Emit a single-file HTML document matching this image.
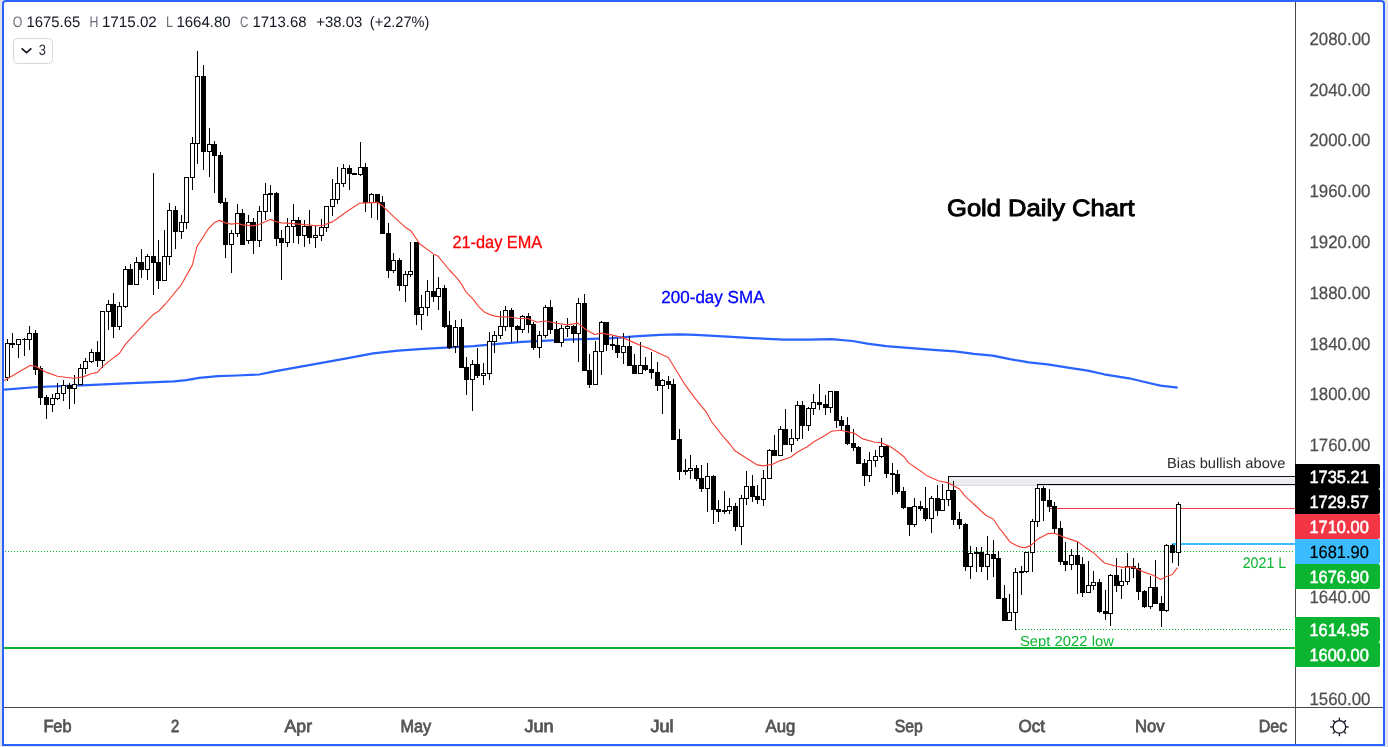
<!DOCTYPE html>
<html><head><meta charset="utf-8"><title>Gold Daily Chart</title>
<style>html,body{margin:0;padding:0;background:#e0e3eb;overflow:hidden}svg{display:block;position:absolute;left:0;top:0;will-change:transform}text{font-family:"Liberation Sans", sans-serif;text-rendering:geometricPrecision}</style>
</head><body>
<svg width="1388" height="747" viewBox="0 0 1388 747">
<rect x="0" y="0" width="1388" height="747" fill="#e0e3eb"/>
<path d="M2 746 V4 Q2 0 6 0 H1381 Q1385 0 1385 4 V746 Z" fill="#2962ff"/>
<path d="M4 744 V4 Q4 2 6 2 H1381 Q1383 2 1383 4 V744 Z" fill="#ffffff"/>
<g shape-rendering="crispEdges">
<rect x="948" y="477" width="347" height="8" fill="#ededf0"/>
<rect x="948" y="485" width="347" height="1" fill="#d9dce6"/>
<rect x="948" y="476" width="347" height="1" fill="#131722"/>
<rect x="1037" y="484" width="258" height="1" fill="#000000"/>
<rect x="1049" y="508" width="246" height="1" fill="#f23645"/>
<rect x="1172" y="543" width="123" height="2" fill="#3bbcff"/>
<rect x="4" y="647" width="1291" height="2" fill="#0cb531"/>
<path d="M5 551h1v1h-1zM8 551h1v1h-1zM11 551h1v1h-1zM14 551h1v1h-1zM17 551h1v1h-1zM20 551h1v1h-1zM23 551h1v1h-1zM26 551h1v1h-1zM29 551h1v1h-1zM32 551h1v1h-1zM35 551h1v1h-1zM38 551h1v1h-1zM41 551h1v1h-1zM44 551h1v1h-1zM47 551h1v1h-1zM50 551h1v1h-1zM53 551h1v1h-1zM56 551h1v1h-1zM59 551h1v1h-1zM62 551h1v1h-1zM65 551h1v1h-1zM68 551h1v1h-1zM71 551h1v1h-1zM74 551h1v1h-1zM77 551h1v1h-1zM80 551h1v1h-1zM83 551h1v1h-1zM86 551h1v1h-1zM89 551h1v1h-1zM92 551h1v1h-1zM95 551h1v1h-1zM98 551h1v1h-1zM101 551h1v1h-1zM104 551h1v1h-1zM107 551h1v1h-1zM110 551h1v1h-1zM113 551h1v1h-1zM116 551h1v1h-1zM119 551h1v1h-1zM122 551h1v1h-1zM125 551h1v1h-1zM128 551h1v1h-1zM131 551h1v1h-1zM134 551h1v1h-1zM137 551h1v1h-1zM140 551h1v1h-1zM143 551h1v1h-1zM146 551h1v1h-1zM149 551h1v1h-1zM152 551h1v1h-1zM155 551h1v1h-1zM158 551h1v1h-1zM161 551h1v1h-1zM164 551h1v1h-1zM167 551h1v1h-1zM170 551h1v1h-1zM173 551h1v1h-1zM176 551h1v1h-1zM179 551h1v1h-1zM182 551h1v1h-1zM185 551h1v1h-1zM188 551h1v1h-1zM191 551h1v1h-1zM194 551h1v1h-1zM197 551h1v1h-1zM200 551h1v1h-1zM203 551h1v1h-1zM206 551h1v1h-1zM209 551h1v1h-1zM212 551h1v1h-1zM215 551h1v1h-1zM218 551h1v1h-1zM221 551h1v1h-1zM224 551h1v1h-1zM227 551h1v1h-1zM230 551h1v1h-1zM233 551h1v1h-1zM236 551h1v1h-1zM239 551h1v1h-1zM242 551h1v1h-1zM245 551h1v1h-1zM248 551h1v1h-1zM251 551h1v1h-1zM254 551h1v1h-1zM257 551h1v1h-1zM260 551h1v1h-1zM263 551h1v1h-1zM266 551h1v1h-1zM269 551h1v1h-1zM272 551h1v1h-1zM275 551h1v1h-1zM278 551h1v1h-1zM281 551h1v1h-1zM284 551h1v1h-1zM287 551h1v1h-1zM290 551h1v1h-1zM293 551h1v1h-1zM296 551h1v1h-1zM299 551h1v1h-1zM302 551h1v1h-1zM305 551h1v1h-1zM308 551h1v1h-1zM311 551h1v1h-1zM314 551h1v1h-1zM317 551h1v1h-1zM320 551h1v1h-1zM323 551h1v1h-1zM326 551h1v1h-1zM329 551h1v1h-1zM332 551h1v1h-1zM335 551h1v1h-1zM338 551h1v1h-1zM341 551h1v1h-1zM344 551h1v1h-1zM347 551h1v1h-1zM350 551h1v1h-1zM353 551h1v1h-1zM356 551h1v1h-1zM359 551h1v1h-1zM362 551h1v1h-1zM365 551h1v1h-1zM368 551h1v1h-1zM371 551h1v1h-1zM374 551h1v1h-1zM377 551h1v1h-1zM380 551h1v1h-1zM383 551h1v1h-1zM386 551h1v1h-1zM389 551h1v1h-1zM392 551h1v1h-1zM395 551h1v1h-1zM398 551h1v1h-1zM401 551h1v1h-1zM404 551h1v1h-1zM407 551h1v1h-1zM410 551h1v1h-1zM413 551h1v1h-1zM416 551h1v1h-1zM419 551h1v1h-1zM422 551h1v1h-1zM425 551h1v1h-1zM428 551h1v1h-1zM431 551h1v1h-1zM434 551h1v1h-1zM437 551h1v1h-1zM440 551h1v1h-1zM443 551h1v1h-1zM446 551h1v1h-1zM449 551h1v1h-1zM452 551h1v1h-1zM455 551h1v1h-1zM458 551h1v1h-1zM461 551h1v1h-1zM464 551h1v1h-1zM467 551h1v1h-1zM470 551h1v1h-1zM473 551h1v1h-1zM476 551h1v1h-1zM479 551h1v1h-1zM482 551h1v1h-1zM485 551h1v1h-1zM488 551h1v1h-1zM491 551h1v1h-1zM494 551h1v1h-1zM497 551h1v1h-1zM500 551h1v1h-1zM503 551h1v1h-1zM506 551h1v1h-1zM509 551h1v1h-1zM512 551h1v1h-1zM515 551h1v1h-1zM518 551h1v1h-1zM521 551h1v1h-1zM524 551h1v1h-1zM527 551h1v1h-1zM530 551h1v1h-1zM533 551h1v1h-1zM536 551h1v1h-1zM539 551h1v1h-1zM542 551h1v1h-1zM545 551h1v1h-1zM548 551h1v1h-1zM551 551h1v1h-1zM554 551h1v1h-1zM557 551h1v1h-1zM560 551h1v1h-1zM563 551h1v1h-1zM566 551h1v1h-1zM569 551h1v1h-1zM572 551h1v1h-1zM575 551h1v1h-1zM578 551h1v1h-1zM581 551h1v1h-1zM584 551h1v1h-1zM587 551h1v1h-1zM590 551h1v1h-1zM593 551h1v1h-1zM596 551h1v1h-1zM599 551h1v1h-1zM602 551h1v1h-1zM605 551h1v1h-1zM608 551h1v1h-1zM611 551h1v1h-1zM614 551h1v1h-1zM617 551h1v1h-1zM620 551h1v1h-1zM623 551h1v1h-1zM626 551h1v1h-1zM629 551h1v1h-1zM632 551h1v1h-1zM635 551h1v1h-1zM638 551h1v1h-1zM641 551h1v1h-1zM644 551h1v1h-1zM647 551h1v1h-1zM650 551h1v1h-1zM653 551h1v1h-1zM656 551h1v1h-1zM659 551h1v1h-1zM662 551h1v1h-1zM665 551h1v1h-1zM668 551h1v1h-1zM671 551h1v1h-1zM674 551h1v1h-1zM677 551h1v1h-1zM680 551h1v1h-1zM683 551h1v1h-1zM686 551h1v1h-1zM689 551h1v1h-1zM692 551h1v1h-1zM695 551h1v1h-1zM698 551h1v1h-1zM701 551h1v1h-1zM704 551h1v1h-1zM707 551h1v1h-1zM710 551h1v1h-1zM713 551h1v1h-1zM716 551h1v1h-1zM719 551h1v1h-1zM722 551h1v1h-1zM725 551h1v1h-1zM728 551h1v1h-1zM731 551h1v1h-1zM734 551h1v1h-1zM737 551h1v1h-1zM740 551h1v1h-1zM743 551h1v1h-1zM746 551h1v1h-1zM749 551h1v1h-1zM752 551h1v1h-1zM755 551h1v1h-1zM758 551h1v1h-1zM761 551h1v1h-1zM764 551h1v1h-1zM767 551h1v1h-1zM770 551h1v1h-1zM773 551h1v1h-1zM776 551h1v1h-1zM779 551h1v1h-1zM782 551h1v1h-1zM785 551h1v1h-1zM788 551h1v1h-1zM791 551h1v1h-1zM794 551h1v1h-1zM797 551h1v1h-1zM800 551h1v1h-1zM803 551h1v1h-1zM806 551h1v1h-1zM809 551h1v1h-1zM812 551h1v1h-1zM815 551h1v1h-1zM818 551h1v1h-1zM821 551h1v1h-1zM824 551h1v1h-1zM827 551h1v1h-1zM830 551h1v1h-1zM833 551h1v1h-1zM836 551h1v1h-1zM839 551h1v1h-1zM842 551h1v1h-1zM845 551h1v1h-1zM848 551h1v1h-1zM851 551h1v1h-1zM854 551h1v1h-1zM857 551h1v1h-1zM860 551h1v1h-1zM863 551h1v1h-1zM866 551h1v1h-1zM869 551h1v1h-1zM872 551h1v1h-1zM875 551h1v1h-1zM878 551h1v1h-1zM881 551h1v1h-1zM884 551h1v1h-1zM887 551h1v1h-1zM890 551h1v1h-1zM893 551h1v1h-1zM896 551h1v1h-1zM899 551h1v1h-1zM902 551h1v1h-1zM905 551h1v1h-1zM908 551h1v1h-1zM911 551h1v1h-1zM914 551h1v1h-1zM917 551h1v1h-1zM920 551h1v1h-1zM923 551h1v1h-1zM926 551h1v1h-1zM929 551h1v1h-1zM932 551h1v1h-1zM935 551h1v1h-1zM938 551h1v1h-1zM941 551h1v1h-1zM944 551h1v1h-1zM947 551h1v1h-1zM950 551h1v1h-1zM953 551h1v1h-1zM956 551h1v1h-1zM959 551h1v1h-1zM962 551h1v1h-1zM965 551h1v1h-1zM968 551h1v1h-1zM971 551h1v1h-1zM974 551h1v1h-1zM977 551h1v1h-1zM980 551h1v1h-1zM983 551h1v1h-1zM986 551h1v1h-1zM989 551h1v1h-1zM992 551h1v1h-1zM995 551h1v1h-1zM998 551h1v1h-1zM1001 551h1v1h-1zM1004 551h1v1h-1zM1007 551h1v1h-1zM1010 551h1v1h-1zM1013 551h1v1h-1zM1016 551h1v1h-1zM1019 551h1v1h-1zM1022 551h1v1h-1zM1025 551h1v1h-1zM1028 551h1v1h-1zM1031 551h1v1h-1zM1034 551h1v1h-1zM1037 551h1v1h-1zM1040 551h1v1h-1zM1043 551h1v1h-1zM1046 551h1v1h-1zM1049 551h1v1h-1zM1052 551h1v1h-1zM1055 551h1v1h-1zM1058 551h1v1h-1zM1061 551h1v1h-1zM1064 551h1v1h-1zM1067 551h1v1h-1zM1070 551h1v1h-1zM1073 551h1v1h-1zM1076 551h1v1h-1zM1079 551h1v1h-1zM1082 551h1v1h-1zM1085 551h1v1h-1zM1088 551h1v1h-1zM1091 551h1v1h-1zM1094 551h1v1h-1zM1097 551h1v1h-1zM1100 551h1v1h-1zM1103 551h1v1h-1zM1106 551h1v1h-1zM1109 551h1v1h-1zM1112 551h1v1h-1zM1115 551h1v1h-1zM1118 551h1v1h-1zM1121 551h1v1h-1zM1124 551h1v1h-1zM1127 551h1v1h-1zM1130 551h1v1h-1zM1133 551h1v1h-1zM1136 551h1v1h-1zM1139 551h1v1h-1zM1142 551h1v1h-1zM1145 551h1v1h-1zM1148 551h1v1h-1zM1151 551h1v1h-1zM1154 551h1v1h-1zM1157 551h1v1h-1zM1160 551h1v1h-1zM1163 551h1v1h-1zM1166 551h1v1h-1zM1169 551h1v1h-1zM1172 551h1v1h-1zM1175 551h1v1h-1zM1178 551h1v1h-1zM1181 551h1v1h-1zM1184 551h1v1h-1zM1187 551h1v1h-1zM1190 551h1v1h-1zM1193 551h1v1h-1zM1196 551h1v1h-1zM1199 551h1v1h-1zM1202 551h1v1h-1zM1205 551h1v1h-1zM1208 551h1v1h-1zM1211 551h1v1h-1zM1214 551h1v1h-1zM1217 551h1v1h-1zM1220 551h1v1h-1zM1223 551h1v1h-1zM1226 551h1v1h-1zM1229 551h1v1h-1zM1232 551h1v1h-1zM1235 551h1v1h-1zM1238 551h1v1h-1zM1241 551h1v1h-1zM1244 551h1v1h-1zM1247 551h1v1h-1zM1250 551h1v1h-1zM1253 551h1v1h-1zM1256 551h1v1h-1zM1259 551h1v1h-1zM1262 551h1v1h-1zM1265 551h1v1h-1zM1268 551h1v1h-1zM1271 551h1v1h-1zM1274 551h1v1h-1zM1277 551h1v1h-1zM1280 551h1v1h-1zM1283 551h1v1h-1zM1286 551h1v1h-1zM1289 551h1v1h-1zM1292 551h1v1h-1zM1016 629h1v1h-1zM1019 629h1v1h-1zM1022 629h1v1h-1zM1025 629h1v1h-1zM1028 629h1v1h-1zM1031 629h1v1h-1zM1034 629h1v1h-1zM1037 629h1v1h-1zM1040 629h1v1h-1zM1043 629h1v1h-1zM1046 629h1v1h-1zM1049 629h1v1h-1zM1052 629h1v1h-1zM1055 629h1v1h-1zM1058 629h1v1h-1zM1061 629h1v1h-1zM1064 629h1v1h-1zM1067 629h1v1h-1zM1070 629h1v1h-1zM1073 629h1v1h-1zM1076 629h1v1h-1zM1079 629h1v1h-1zM1082 629h1v1h-1zM1085 629h1v1h-1zM1088 629h1v1h-1zM1091 629h1v1h-1zM1094 629h1v1h-1zM1097 629h1v1h-1zM1100 629h1v1h-1zM1103 629h1v1h-1zM1106 629h1v1h-1zM1109 629h1v1h-1zM1112 629h1v1h-1zM1115 629h1v1h-1zM1118 629h1v1h-1zM1121 629h1v1h-1zM1124 629h1v1h-1zM1127 629h1v1h-1zM1130 629h1v1h-1zM1133 629h1v1h-1zM1136 629h1v1h-1zM1139 629h1v1h-1zM1142 629h1v1h-1zM1145 629h1v1h-1zM1148 629h1v1h-1zM1151 629h1v1h-1zM1154 629h1v1h-1zM1157 629h1v1h-1zM1160 629h1v1h-1zM1163 629h1v1h-1zM1166 629h1v1h-1zM1169 629h1v1h-1zM1172 629h1v1h-1zM1175 629h1v1h-1zM1178 629h1v1h-1zM1181 629h1v1h-1zM1184 629h1v1h-1zM1187 629h1v1h-1zM1190 629h1v1h-1zM1193 629h1v1h-1zM1196 629h1v1h-1zM1199 629h1v1h-1zM1202 629h1v1h-1zM1205 629h1v1h-1zM1208 629h1v1h-1zM1211 629h1v1h-1zM1214 629h1v1h-1zM1217 629h1v1h-1zM1220 629h1v1h-1zM1223 629h1v1h-1zM1226 629h1v1h-1zM1229 629h1v1h-1zM1232 629h1v1h-1zM1235 629h1v1h-1zM1238 629h1v1h-1zM1241 629h1v1h-1zM1244 629h1v1h-1zM1247 629h1v1h-1zM1250 629h1v1h-1zM1253 629h1v1h-1zM1256 629h1v1h-1zM1259 629h1v1h-1zM1262 629h1v1h-1zM1265 629h1v1h-1zM1268 629h1v1h-1zM1271 629h1v1h-1zM1274 629h1v1h-1zM1277 629h1v1h-1zM1280 629h1v1h-1zM1283 629h1v1h-1zM1286 629h1v1h-1zM1289 629h1v1h-1zM1292 629h1v1h-1z" fill="#0cb531"/>
</g>
<polyline points="4.0,389.8 4.4,389.7 37.6,387.0 87.7,385.1 125.4,383.4 174.0,381.4 186.5,380.1 199.1,377.8 217.9,376.1 236.7,375.5 259.2,374.5 274.3,371.3 299.4,366.9 324.4,362.3 348.0,358.1 373.1,353.3 398.1,350.7 423.2,348.8 445.8,347.6 473.4,346.2 498.4,343.8 522.0,341.9 547.1,340.7 572.1,339.4 592.2,338.8 612.3,338.2 634.8,336.3 659.9,334.8 678.7,334.4 696.0,334.8 727.3,336.6 752.4,338.2 783.8,339.6 808.8,339.7 831.4,339.1 852.5,341.0 867.3,343.6 886.1,346.1 911.2,348.2 936.3,350.1 955.1,351.3 973.9,353.8 992.7,355.7 1010.0,359.2 1028.8,362.3 1047.6,364.3 1066.4,367.3 1087.7,370.6 1104.0,374.3 1129.1,378.3 1147.9,382.7 1160.4,385.6 1177.7,387.7" fill="none" stroke="#2962ff" stroke-width="2.2" stroke-linejoin="round" stroke-linecap="butt"/>
<g shape-rendering="crispEdges">
<path d="M7 339h1v42h-1zM12 333h1v15h-1zM18 339h1v19h-1zM24 338h1v18h-1zM29 326h1v24h-1zM35 330h1v45h-1zM40 366h1v39h-1zM46 395h1v24h-1zM52 394h1v18h-1zM57 383h1v17h-1zM63 380h1v21h-1zM69 383h1v26h-1zM74 375h1v29h-1zM80 364h1v21h-1zM85 358h1v16h-1zM91 349h1v14h-1zM97 341h1v26h-1zM102 311h1v57h-1zM108 300h1v30h-1zM113 293h1v45h-1zM119 302h1v28h-1zM125 266h1v42h-1zM130 264h1v21h-1zM136 257h1v28h-1zM141 249h1v29h-1zM147 254h1v26h-1zM153 173h1v122h-1zM158 240h1v49h-1zM164 230h1v51h-1zM169 203h1v62h-1zM175 206h1v43h-1zM181 215h1v24h-1zM186 177h1v52h-1zM192 137h1v53h-1zM197 51h1v113h-1zM203 65h1v105h-1zM209 128h1v49h-1zM214 141h1v52h-1zM220 152h1v52h-1zM225 198h1v60h-1zM231 230h1v43h-1zM237 204h1v33h-1zM242 209h1v36h-1zM248 215h1v29h-1zM253 218h1v36h-1zM259 206h1v41h-1zM265 183h1v37h-1zM270 185h1v27h-1zM276 192h1v54h-1zM281 230h1v50h-1zM287 218h1v29h-1zM293 204h1v39h-1zM298 217h1v27h-1zM304 220h1v27h-1zM309 210h1v34h-1zM315 225h1v23h-1zM321 219h1v22h-1zM326 206h1v26h-1zM332 179h1v37h-1zM337 167h1v37h-1zM343 164h1v23h-1zM349 165h1v25h-1zM354 173h1v2h-1zM360 142h1v34h-1zM365 163h1v49h-1zM371 193h1v25h-1zM377 194h1v26h-1zM382 196h1v38h-1zM388 223h1v55h-1zM393 253h1v20h-1zM399 258h1v33h-1zM405 271h1v31h-1zM410 242h1v35h-1zM416 242h1v83h-1zM421 295h1v35h-1zM427 280h1v36h-1zM433 255h1v47h-1zM438 277h1v33h-1zM444 285h1v43h-1zM449 311h1v38h-1zM455 320h1v33h-1zM461 319h1v49h-1zM466 357h1v38h-1zM472 360h1v51h-1zM477 348h1v30h-1zM483 363h1v22h-1zM489 332h1v48h-1zM494 331h1v22h-1zM500 311h1v28h-1zM505 306h1v25h-1zM511 308h1v34h-1zM517 325h1v17h-1zM522 315h1v18h-1zM528 313h1v20h-1zM533 322h1v28h-1zM539 331h1v27h-1zM545 305h1v33h-1zM550 300h1v34h-1zM556 321h1v22h-1zM561 325h1v22h-1zM567 318h1v19h-1zM573 325h1v18h-1zM578 298h1v64h-1zM584 294h1v77h-1zM589 354h1v34h-1zM595 341h1v44h-1zM601 321h1v54h-1zM606 322h1v29h-1zM612 336h1v14h-1zM617 338h1v20h-1zM623 333h1v31h-1zM629 336h1v30h-1zM634 354h1v20h-1zM640 342h1v32h-1zM645 357h1v14h-1zM651 352h1v27h-1zM657 362h1v29h-1zM662 379h1v35h-1zM668 376h1v13h-1zM673 379h1v61h-1zM679 429h1v51h-1zM685 459h1v16h-1zM690 455h1v24h-1zM696 465h1v16h-1zM701 465h1v27h-1zM707 463h1v49h-1zM713 475h1v49h-1zM718 500h1v22h-1zM724 491h1v23h-1zM729 498h1v16h-1zM735 503h1v28h-1zM741 495h1v50h-1zM746 471h1v34h-1zM752 475h1v27h-1zM757 485h1v19h-1zM763 470h1v36h-1zM769 449h1v30h-1zM774 435h1v21h-1zM780 426h1v30h-1zM785 409h1v36h-1zM791 429h1v23h-1zM797 401h1v40h-1zM802 401h1v38h-1zM808 407h1v24h-1zM813 394h1v21h-1zM819 384h1v26h-1zM825 395h1v20h-1zM830 391h1v22h-1zM836 391h1v37h-1zM841 416h1v14h-1zM847 417h1v28h-1zM853 429h1v22h-1zM858 446h1v18h-1zM864 459h1v27h-1zM869 452h1v30h-1zM875 450h1v17h-1zM881 438h1v20h-1zM886 445h1v33h-1zM892 463h1v32h-1zM897 470h1v24h-1zM903 487h1v22h-1zM909 507h1v29h-1zM914 498h1v29h-1zM920 501h1v10h-1zM925 487h1v34h-1zM931 496h1v37h-1zM937 485h1v31h-1zM942 484h1v27h-1zM948 476h1v30h-1zM953 481h1v44h-1zM959 512h1v17h-1zM965 523h1v48h-1zM970 546h1v33h-1zM976 547h1v25h-1zM981 547h1v25h-1zM987 536h1v44h-1zM993 540h1v37h-1zM998 551h1v48h-1zM1004 585h1v36h-1zM1009 594h1v27h-1zM1015 568h1v62h-1zM1021 566h1v29h-1zM1026 552h1v21h-1zM1032 519h1v53h-1zM1037 484h1v43h-1zM1043 486h1v35h-1zM1049 489h1v23h-1zM1054 502h1v31h-1zM1060 521h1v44h-1zM1065 542h1v29h-1zM1071 549h1v21h-1zM1077 542h1v52h-1zM1082 557h1v40h-1zM1088 561h1v32h-1zM1093 571h1v19h-1zM1099 579h1v34h-1zM1105 590h1v30h-1zM1110 574h1v52h-1zM1116 558h1v34h-1zM1121 569h1v30h-1zM1127 553h1v32h-1zM1133 558h1v20h-1zM1138 563h1v37h-1zM1144 590h1v18h-1zM1150 576h1v33h-1zM1155 560h1v44h-1zM1161 596h1v31h-1zM1166 544h1v68h-1zM1172 544h1v19h-1zM1178 502h1v64h-1z" fill="#000"/>
<path d="M5 343h5v35h-5zM10 343h5v2h-5zM16 339h5v6h-5zM22 339h5v1h-5zM27 333h5v7h-5zM33 333h5v37h-5zM38 368h5v30h-5zM44 397h5v8h-5zM50 398h5v7h-5zM55 393h5v6h-5zM61 385h5v9h-5zM67 385h5v4h-5zM72 384h5v5h-5zM78 368h5v17h-5zM83 361h5v8h-5zM89 352h5v10h-5zM95 352h5v9h-5zM100 311h5v50h-5zM106 304h5v8h-5zM111 304h5v23h-5zM117 306h5v21h-5zM123 269h5v38h-5zM128 269h5v16h-5zM134 262h5v23h-5zM139 262h5v8h-5zM145 256h5v14h-5zM151 256h5v7h-5zM156 262h5v19h-5zM162 256h5v25h-5zM167 210h5v47h-5zM173 210h5v22h-5zM179 222h5v10h-5zM184 177h5v46h-5zM190 143h5v35h-5zM195 76h5v68h-5zM201 76h5v76h-5zM207 144h5v8h-5zM212 144h5v12h-5zM218 155h5v48h-5zM223 202h5v43h-5zM229 233h5v12h-5zM235 213h5v21h-5zM240 213h5v32h-5zM246 222h5v19h-5zM251 222h5v19h-5zM257 211h5v30h-5zM263 194h5v18h-5zM268 193h5v2h-5zM274 193h5v46h-5zM279 238h5v5h-5zM285 226h5v17h-5zM291 220h5v7h-5zM296 220h5v16h-5zM302 226h5v10h-5zM307 226h5v12h-5zM313 235h5v3h-5zM319 227h5v9h-5zM324 206h5v22h-5zM330 199h5v8h-5zM335 183h5v17h-5zM341 168h5v16h-5zM347 168h5v6h-5zM352 173h5v2h-5zM358 167h5v8h-5zM363 167h5v36h-5zM369 194h5v9h-5zM375 194h5v9h-5zM380 202h5v32h-5zM386 233h5v38h-5zM391 260h5v11h-5zM397 260h5v26h-5zM403 274h5v12h-5zM408 271h5v4h-5zM414 242h5v73h-5zM419 307h5v8h-5zM425 291h5v17h-5zM431 291h5v6h-5zM436 288h5v9h-5zM442 288h5v39h-5zM447 325h5v23h-5zM453 327h5v20h-5zM459 327h5v41h-5zM464 367h5v13h-5zM470 364h5v16h-5zM475 364h5v12h-5zM481 373h5v3h-5zM487 341h5v33h-5zM492 335h5v7h-5zM498 326h5v10h-5zM503 310h5v17h-5zM509 310h5v17h-5zM515 326h5v4h-5zM520 316h5v14h-5zM526 316h5v9h-5zM531 324h5v24h-5zM537 335h5v13h-5zM543 307h5v29h-5zM548 307h5v23h-5zM554 329h5v14h-5zM559 328h5v15h-5zM565 326h5v3h-5zM571 326h5v8h-5zM576 303h5v31h-5zM582 303h5v68h-5zM587 370h5v15h-5zM593 351h5v34h-5zM599 322h5v30h-5zM604 322h5v23h-5zM610 344h5v2h-5zM615 345h5v8h-5zM621 346h5v7h-5zM627 346h5v20h-5zM632 365h5v9h-5zM638 365h5v9h-5zM643 365h5v5h-5zM649 369h5v4h-5zM655 372h5v14h-5zM660 380h5v6h-5zM666 381h5v4h-5zM671 384h5v56h-5zM677 439h5v33h-5zM683 470h5v2h-5zM688 468h5v3h-5zM694 468h5v11h-5zM699 478h5v11h-5zM705 476h5v13h-5zM711 476h5v34h-5zM716 509h5v3h-5zM722 510h5v2h-5zM727 506h5v5h-5zM733 506h5v21h-5zM739 498h5v29h-5zM744 486h5v13h-5zM750 486h5v11h-5zM755 496h5v4h-5zM761 478h5v22h-5zM767 450h5v29h-5zM772 450h5v6h-5zM778 429h5v27h-5zM783 429h5v16h-5zM789 438h5v7h-5zM795 405h5v34h-5zM800 405h5v21h-5zM806 408h5v18h-5zM811 402h5v7h-5zM817 402h5v3h-5zM823 404h5v4h-5zM828 391h5v17h-5zM834 391h5v30h-5zM839 420h5v6h-5zM845 425h5v19h-5zM851 443h5v5h-5zM856 447h5v17h-5zM862 463h5v13h-5zM867 460h5v16h-5zM873 456h5v5h-5zM879 446h5v11h-5zM884 446h5v28h-5zM890 473h5v2h-5zM895 474h5v18h-5zM901 491h5v17h-5zM907 507h5v18h-5zM912 506h5v19h-5zM918 506h5v3h-5zM923 508h5v11h-5zM929 498h5v21h-5zM935 498h5v13h-5zM940 499h5v12h-5zM946 490h5v10h-5zM951 490h5v30h-5zM957 519h5v6h-5zM963 524h5v43h-5zM968 553h5v14h-5zM974 552h5v2h-5zM979 552h5v15h-5zM985 554h5v13h-5zM991 554h5v5h-5zM996 558h5v41h-5zM1002 598h5v23h-5zM1007 612h5v9h-5zM1013 572h5v41h-5zM1019 571h5v2h-5zM1024 552h5v20h-5zM1030 521h5v32h-5zM1035 488h5v34h-5zM1041 488h5v13h-5zM1047 500h5v7h-5zM1052 506h5v23h-5zM1058 528h5v34h-5zM1063 561h5v4h-5zM1069 555h5v10h-5zM1075 555h5v10h-5zM1080 564h5v29h-5zM1086 585h5v8h-5zM1091 582h5v4h-5zM1097 582h5v30h-5zM1103 611h5v3h-5zM1108 575h5v39h-5zM1114 575h5v11h-5zM1119 581h5v5h-5zM1125 566h5v16h-5zM1131 566h5v3h-5zM1136 568h5v24h-5zM1142 591h5v16h-5zM1148 587h5v20h-5zM1153 587h5v17h-5zM1159 603h5v8h-5zM1164 545h5v66h-5zM1170 545h5v8h-5zM1176 504h5v49h-5z" fill="#000"/>
<path d="M6 344h3v33h-3zM17 340h3v4h-3zM28 334h3v5h-3zM51 399h3v5h-3zM56 394h3v4h-3zM62 386h3v7h-3zM73 385h3v3h-3zM79 369h3v15h-3zM84 362h3v6h-3zM90 353h3v8h-3zM101 312h3v48h-3zM107 305h3v6h-3zM118 307h3v19h-3zM124 270h3v36h-3zM135 263h3v21h-3zM146 257h3v12h-3zM163 257h3v23h-3zM168 211h3v45h-3zM180 223h3v8h-3zM185 178h3v44h-3zM191 144h3v33h-3zM196 77h3v66h-3zM208 145h3v6h-3zM230 234h3v10h-3zM236 214h3v19h-3zM247 223h3v17h-3zM258 212h3v28h-3zM264 195h3v16h-3zM286 227h3v15h-3zM292 221h3v5h-3zM303 227h3v8h-3zM314 236h3v1h-3zM320 228h3v7h-3zM325 207h3v20h-3zM331 200h3v6h-3zM336 184h3v15h-3zM342 169h3v14h-3zM359 168h3v6h-3zM370 195h3v7h-3zM392 261h3v9h-3zM404 275h3v10h-3zM409 272h3v2h-3zM420 308h3v6h-3zM426 292h3v15h-3zM437 289h3v7h-3zM454 328h3v18h-3zM471 365h3v14h-3zM482 374h3v1h-3zM488 342h3v31h-3zM493 336h3v5h-3zM499 327h3v8h-3zM504 311h3v15h-3zM521 317h3v12h-3zM538 336h3v11h-3zM544 308h3v27h-3zM560 329h3v13h-3zM566 327h3v1h-3zM577 304h3v29h-3zM594 352h3v32h-3zM600 323h3v28h-3zM622 347h3v5h-3zM639 366h3v7h-3zM661 381h3v4h-3zM689 469h3v1h-3zM706 477h3v11h-3zM728 507h3v3h-3zM740 499h3v27h-3zM745 487h3v11h-3zM762 479h3v20h-3zM768 451h3v27h-3zM779 430h3v25h-3zM790 439h3v5h-3zM796 406h3v32h-3zM807 409h3v16h-3zM812 403h3v5h-3zM829 392h3v15h-3zM868 461h3v14h-3zM874 457h3v3h-3zM880 447h3v9h-3zM913 507h3v17h-3zM930 499h3v19h-3zM941 500h3v10h-3zM947 491h3v8h-3zM969 554h3v12h-3zM986 555h3v11h-3zM1008 613h3v7h-3zM1014 573h3v39h-3zM1025 553h3v18h-3zM1031 522h3v30h-3zM1036 489h3v32h-3zM1070 556h3v8h-3zM1087 586h3v6h-3zM1092 583h3v2h-3zM1109 576h3v37h-3zM1120 582h3v3h-3zM1126 567h3v14h-3zM1149 588h3v18h-3zM1165 546h3v64h-3zM1177 505h3v47h-3z" fill="#fff"/>
</g>
<polyline points="4.2,380.4 30.0,365.4 35.4,366.2 40.4,369.0 46.6,372.4 57.4,376.2 73.2,378.2 83.2,376.9 91.2,373.7 97.4,372.4 102.5,366.6 108.2,361.9 119.5,353.3 125.5,344.1 153.1,314.6 158.1,311.6 165.4,304.0 180.7,285.7 192.4,264.9 196.9,246.6 208.2,229.0 214.8,222.2 219.5,220.4 225.3,222.9 231.5,224.1 237.3,223.3 242.3,224.9 253.1,225.9 259.4,224.3 270.3,219.4 276.4,221.8 281.4,222.9 293.4,223.6 304.4,224.6 316.4,225.8 323.0,225.3 332.4,221.9 337.6,218.2 348.0,210.7 359.4,203.2 366.4,202.9 377.5,202.4 382.5,205.8 393.6,216.6 404.9,226.9 410.7,230.7 419.9,244.0 433.4,253.9 437.8,255.9 449.4,270.0 457.2,278.3 461.7,284.4 466.1,292.2 472.8,298.9 478.3,306.1 483.9,311.7 489.4,314.4 495.0,316.1 500.6,316.9 505.3,316.7 517.5,318.2 528.4,318.8 537.0,322.2 545.0,321.0 556.4,323.2 567.4,324.9 578.0,323.1 586.4,330.0 594.7,334.5 601.2,333.1 611.4,334.9 623.4,337.9 636.3,343.6 640.0,345.3 651.0,349.4 668.3,357.5 684.1,383.3 694.9,398.2 706.5,412.4 711.6,421.8 714.1,425.0 723.2,436.6 729.8,444.0 734.9,450.8 746.5,458.3 757.3,464.9 763.3,465.9 773.2,464.1 775.6,462.8 780.3,460.6 790.6,457.2 797.2,452.2 807.2,446.7 813.9,441.7 822.8,436.7 831.7,431.3 840.6,430.2 853.9,433.1 862.8,438.9 875.0,442.2 881.1,442.6 890.6,446.7 898.3,452.2 903.9,456.7 908.3,462.6 916.6,468.3 926.5,475.4 938.2,480.7 948.5,482.9 959.5,489.1 965.5,496.6 976.5,506.5 979.9,510.0 986.5,515.7 993.2,519.0 999.8,529.0 1001.6,530.8 1009.9,541.9 1016.0,545.2 1020.6,547.1 1025.3,547.6 1030.6,545.6 1037.2,539.6 1039.8,538.0 1048.1,533.6 1054.7,533.2 1060.3,535.8 1068.1,538.6 1077.5,541.6 1084.8,546.9 1093.1,552.4 1104.5,563.0 1116.5,566.2 1123.2,567.4 1133.2,566.9 1144.8,572.4 1153.1,575.3 1160.6,579.5 1166.6,576.5 1172.4,574.5 1177.4,567.7" fill="none" stroke="#f44336" stroke-width="1.15" stroke-linejoin="round"/>
<text x="947.0" y="216.3" font-size="23.60" fill="#000" font-weight="normal" text-anchor="start" textLength="187.6" lengthAdjust="spacingAndGlyphs" stroke="#000" stroke-width="0.95">Gold Daily Chart</text>
<text x="452.4" y="248.0" font-size="17.50" fill="#ff0000" font-weight="normal" text-anchor="start" textLength="89.8" lengthAdjust="spacingAndGlyphs" stroke="#ff0000" stroke-width="0.3">21-day EMA</text>
<text x="661.3" y="302.6" font-size="17.50" fill="#0000ff" font-weight="normal" text-anchor="start" textLength="103.2" lengthAdjust="spacingAndGlyphs" stroke="#0000ff" stroke-width="0.3">200-day SMA</text>
<text x="1167.1" y="468.0" font-size="14.50" fill="#2a2a2a" font-weight="normal" text-anchor="start" textLength="118.2" lengthAdjust="spacingAndGlyphs">Bias bullish above</text>
<text x="1242.7" y="568.0" font-size="15.30" fill="#0cb531" font-weight="normal" text-anchor="start" textLength="43.5" lengthAdjust="spacingAndGlyphs">2021 L</text>
<text x="1019.9" y="645.8" font-size="14.50" fill="#0cb531" font-weight="normal" text-anchor="start" textLength="94.0" lengthAdjust="spacingAndGlyphs">Sept 2022 low</text>
<text x="12.7" y="26.9" font-size="15.20" fill="#6a6d78" font-weight="normal" text-anchor="start" textLength="9.6" lengthAdjust="spacingAndGlyphs">O</text>
<text x="26.6" y="26.9" font-size="15.20" fill="#131722" font-weight="normal" text-anchor="start" textLength="53.6" lengthAdjust="spacingAndGlyphs">1675.65</text>
<text x="89.6" y="26.9" font-size="15.20" fill="#6a6d78" font-weight="normal" text-anchor="start" textLength="8.9" lengthAdjust="spacingAndGlyphs">H</text>
<text x="101.9" y="26.9" font-size="15.20" fill="#131722" font-weight="normal" text-anchor="start" textLength="54.9" lengthAdjust="spacingAndGlyphs">1715.02</text>
<text x="166.1" y="26.9" font-size="15.20" fill="#6a6d78" font-weight="normal" text-anchor="start" textLength="7.0" lengthAdjust="spacingAndGlyphs">L</text>
<text x="176.4" y="26.9" font-size="15.20" fill="#131722" font-weight="normal" text-anchor="start" textLength="54.3" lengthAdjust="spacingAndGlyphs">1664.80</text>
<text x="240.0" y="26.9" font-size="15.20" fill="#6a6d78" font-weight="normal" text-anchor="start" textLength="8.3" lengthAdjust="spacingAndGlyphs">C</text>
<text x="252.5" y="26.9" font-size="15.20" fill="#131722" font-weight="normal" text-anchor="start" textLength="54.0" lengthAdjust="spacingAndGlyphs">1713.68</text>
<text x="316.2" y="26.9" font-size="15.20" fill="#131722" font-weight="normal" text-anchor="start" textLength="46.1" lengthAdjust="spacingAndGlyphs">+38.03</text>
<text x="369.8" y="26.9" font-size="15.20" fill="#131722" font-weight="normal" text-anchor="start" textLength="59.6" lengthAdjust="spacingAndGlyphs">(+2.27%)</text>
<rect x="13.5" y="38.5" width="39" height="25" rx="4" ry="4" fill="#fff" stroke="#d5d8e0" stroke-width="1"/>
<path d="M21.6 48.4 L26.5 52.7 L31.4 48.4" fill="none" stroke="#131722" stroke-width="1.7"/>
<text x="38.8" y="55.4" font-size="15.00" fill="#2a2e39" font-weight="normal" text-anchor="start" textLength="7.2" lengthAdjust="spacingAndGlyphs">3</text>
<g shape-rendering="crispEdges">
<rect x="4" y="707" width="1379" height="1" fill="#4a4a4a"/>
<rect x="1295" y="2" width="1" height="742" fill="#4a4a4a"/>
</g>
<text x="1309.5" y="44.8" font-size="17.80" fill="#4f4f4f" font-weight="normal" text-anchor="start" textLength="60.9" lengthAdjust="spacingAndGlyphs" stroke="#4f4f4f" stroke-width="0.25">2080.00</text>
<text x="1309.5" y="95.8" font-size="17.80" fill="#4f4f4f" font-weight="normal" text-anchor="start" textLength="60.9" lengthAdjust="spacingAndGlyphs" stroke="#4f4f4f" stroke-width="0.25">2040.00</text>
<text x="1309.5" y="145.8" font-size="17.80" fill="#4f4f4f" font-weight="normal" text-anchor="start" textLength="60.9" lengthAdjust="spacingAndGlyphs" stroke="#4f4f4f" stroke-width="0.25">2000.00</text>
<text x="1309.5" y="196.8" font-size="17.80" fill="#4f4f4f" font-weight="normal" text-anchor="start" textLength="60.9" lengthAdjust="spacingAndGlyphs" stroke="#4f4f4f" stroke-width="0.25">1960.00</text>
<text x="1309.5" y="247.8" font-size="17.80" fill="#4f4f4f" font-weight="normal" text-anchor="start" textLength="60.9" lengthAdjust="spacingAndGlyphs" stroke="#4f4f4f" stroke-width="0.25">1920.00</text>
<text x="1309.5" y="298.8" font-size="17.80" fill="#4f4f4f" font-weight="normal" text-anchor="start" textLength="60.9" lengthAdjust="spacingAndGlyphs" stroke="#4f4f4f" stroke-width="0.25">1880.00</text>
<text x="1309.5" y="349.8" font-size="17.80" fill="#4f4f4f" font-weight="normal" text-anchor="start" textLength="60.9" lengthAdjust="spacingAndGlyphs" stroke="#4f4f4f" stroke-width="0.25">1840.00</text>
<text x="1309.5" y="399.8" font-size="17.80" fill="#4f4f4f" font-weight="normal" text-anchor="start" textLength="60.9" lengthAdjust="spacingAndGlyphs" stroke="#4f4f4f" stroke-width="0.25">1800.00</text>
<text x="1309.5" y="450.8" font-size="17.80" fill="#4f4f4f" font-weight="normal" text-anchor="start" textLength="60.9" lengthAdjust="spacingAndGlyphs" stroke="#4f4f4f" stroke-width="0.25">1760.00</text>
<text x="1309.5" y="602.8" font-size="17.80" fill="#4f4f4f" font-weight="normal" text-anchor="start" textLength="60.9" lengthAdjust="spacingAndGlyphs" stroke="#4f4f4f" stroke-width="0.25">1640.00</text>
<text x="1309.5" y="704.8" font-size="17.80" fill="#4f4f4f" font-weight="normal" text-anchor="start" textLength="60.9" lengthAdjust="spacingAndGlyphs" stroke="#4f4f4f" stroke-width="0.25">1560.00</text>
<path d="M1295 464 H1378 Q1380 464 1380 466 V487 Q1380 489 1378 489 H1295 Z" fill="#000000"/>
<text x="1309.5" y="482.7" font-size="17.70" fill="#fff" font-weight="normal" text-anchor="start" textLength="59.3" lengthAdjust="spacingAndGlyphs" stroke="#fff" stroke-width="0.55">1735.21</text>
<path d="M1295 489 H1378 Q1380 489 1380 491 V512 Q1380 514 1378 514 H1295 Z" fill="#000000"/>
<text x="1309.5" y="507.7" font-size="17.70" fill="#fff" font-weight="normal" text-anchor="start" textLength="59.3" lengthAdjust="spacingAndGlyphs" stroke="#fff" stroke-width="0.55">1729.57</text>
<path d="M1295 514 H1378 Q1380 514 1380 516 V537 Q1380 539 1378 539 H1295 Z" fill="#f23645"/>
<text x="1309.5" y="532.7" font-size="17.70" fill="#fff" font-weight="normal" text-anchor="start" textLength="59.3" lengthAdjust="spacingAndGlyphs" stroke="#fff" stroke-width="0.55">1710.00</text>
<path d="M1295 539 H1378 Q1380 539 1380 541 V562 Q1380 564 1378 564 H1295 Z" fill="#3bbcff"/>
<text x="1309.5" y="557.7" font-size="17.70" fill="#000" font-weight="normal" text-anchor="start" textLength="59.3" lengthAdjust="spacingAndGlyphs" stroke="#000" stroke-width="0.2">1681.90</text>
<path d="M1295 564 H1378 Q1380 564 1380 566 V587 Q1380 589 1378 589 H1295 Z" fill="#0cb531"/>
<text x="1309.5" y="582.7" font-size="17.70" fill="#fff" font-weight="normal" text-anchor="start" textLength="59.3" lengthAdjust="spacingAndGlyphs" stroke="#fff" stroke-width="0.55">1676.90</text>
<path d="M1295 617 H1378 Q1380 617 1380 619 V640 Q1380 642 1378 642 H1295 Z" fill="#0cb531"/>
<text x="1309.5" y="635.7" font-size="17.70" fill="#fff" font-weight="normal" text-anchor="start" textLength="59.3" lengthAdjust="spacingAndGlyphs" stroke="#fff" stroke-width="0.55">1614.95</text>
<path d="M1295 642 H1378 Q1380 642 1380 644 V665 Q1380 667 1378 667 H1295 Z" fill="#0cb531"/>
<text x="1309.5" y="660.7" font-size="17.70" fill="#fff" font-weight="normal" text-anchor="start" textLength="59.3" lengthAdjust="spacingAndGlyphs" stroke="#fff" stroke-width="0.55">1600.00</text>
<text x="43.4" y="732.4" font-size="17.50" fill="#555555" font-weight="normal" text-anchor="start" textLength="28.1" lengthAdjust="spacingAndGlyphs" stroke="#555555" stroke-width="0.75">Feb</text>
<text x="170.9" y="732.4" font-size="17.50" fill="#555555" font-weight="normal" text-anchor="start" textLength="8.2" lengthAdjust="spacingAndGlyphs" stroke="#555555" stroke-width="0.75">2</text>
<text x="284.6" y="732.4" font-size="17.50" fill="#555555" font-weight="normal" text-anchor="start" textLength="27.4" lengthAdjust="spacingAndGlyphs" stroke="#555555" stroke-width="0.75">Apr</text>
<text x="400.4" y="732.4" font-size="17.50" fill="#555555" font-weight="normal" text-anchor="start" textLength="30.7" lengthAdjust="spacingAndGlyphs" stroke="#555555" stroke-width="0.75">May</text>
<text x="524.4" y="732.4" font-size="17.50" fill="#555555" font-weight="normal" text-anchor="start" textLength="29.2" lengthAdjust="spacingAndGlyphs" stroke="#555555" stroke-width="0.75">Jun</text>
<text x="650.4" y="732.4" font-size="17.50" fill="#555555" font-weight="normal" text-anchor="start" textLength="23.2" lengthAdjust="spacingAndGlyphs" stroke="#555555" stroke-width="0.75">Jul</text>
<text x="765.6" y="732.4" font-size="17.50" fill="#555555" font-weight="normal" text-anchor="start" textLength="29.8" lengthAdjust="spacingAndGlyphs" stroke="#555555" stroke-width="0.75">Aug</text>
<text x="894.8" y="732.4" font-size="17.50" fill="#555555" font-weight="normal" text-anchor="start" textLength="28.1" lengthAdjust="spacingAndGlyphs" stroke="#555555" stroke-width="0.75">Sep</text>
<text x="1018.4" y="732.4" font-size="17.50" fill="#555555" font-weight="normal" text-anchor="start" textLength="26.6" lengthAdjust="spacingAndGlyphs" stroke="#555555" stroke-width="0.75">Oct</text>
<text x="1135.1" y="732.4" font-size="17.50" fill="#555555" font-weight="normal" text-anchor="start" textLength="29.6" lengthAdjust="spacingAndGlyphs" stroke="#555555" stroke-width="0.75">Nov</text>
<text x="1258.7" y="732.4" font-size="17.50" fill="#555555" font-weight="normal" text-anchor="start" textLength="28.6" lengthAdjust="spacingAndGlyphs" stroke="#555555" stroke-width="0.75">Dec</text>
<circle cx="1339.4" cy="726.9" r="6.3" fill="none" stroke="#131722" stroke-width="1.3"/><line x1="1345.70" y1="726.90" x2="1348.70" y2="726.90" stroke="#131722" stroke-width="1.3"/><line x1="1343.85" y1="731.35" x2="1345.98" y2="733.48" stroke="#131722" stroke-width="1.3"/><line x1="1339.40" y1="733.20" x2="1339.40" y2="736.20" stroke="#131722" stroke-width="1.3"/><line x1="1334.95" y1="731.35" x2="1332.82" y2="733.48" stroke="#131722" stroke-width="1.3"/><line x1="1333.10" y1="726.90" x2="1330.10" y2="726.90" stroke="#131722" stroke-width="1.3"/><line x1="1334.95" y1="722.45" x2="1332.82" y2="720.32" stroke="#131722" stroke-width="1.3"/><line x1="1339.40" y1="720.60" x2="1339.40" y2="717.60" stroke="#131722" stroke-width="1.3"/><line x1="1343.85" y1="722.45" x2="1345.98" y2="720.32" stroke="#131722" stroke-width="1.3"/>
</svg></body></html>
